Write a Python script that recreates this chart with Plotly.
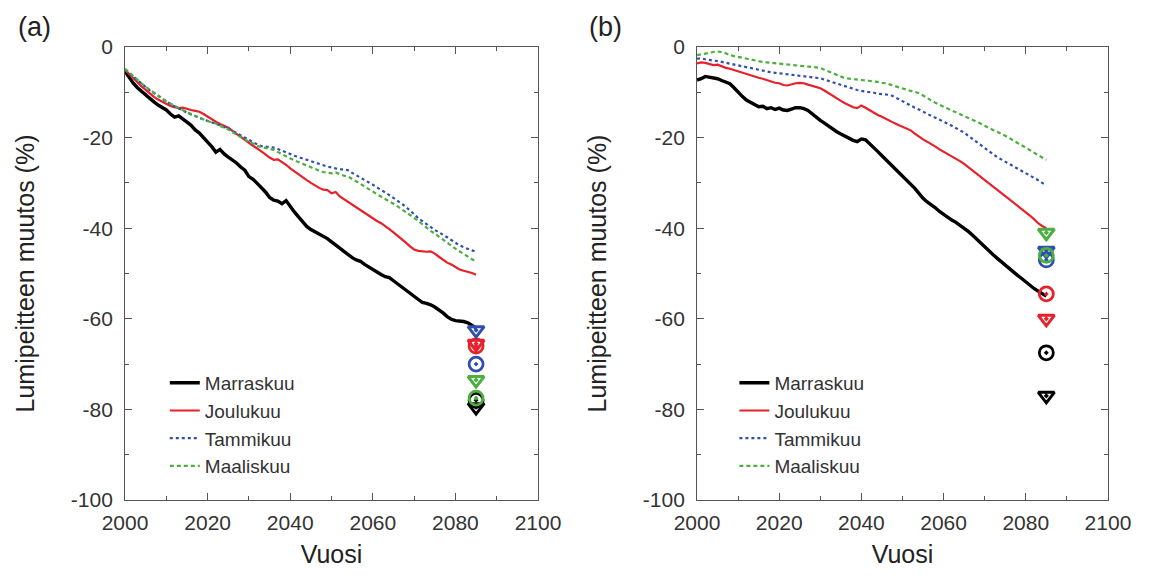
import plotly.graph_objects as go

years = list(range(2000, 2086))
months = ["Marraskuu", "Joulukuu", "Tammikuu", "Maaliskuu"]

# Panel (a)
a_marraskuu = [-5.4, -6.8, -8.0, -9.0, -9.8, -10.6, -11.5, -12.1, -12.8, -13.4, -13.9, -14.8, -15.5, -15.2, -16.0, -16.6, -17.3, -18.3, -19.0, -20.1,
               -21.0, -22.0, -23.2, -22.6, -23.6, -24.3, -24.9, -25.6, -26.5, -27.2, -28.6, -29.2, -30.1, -31.0, -32.0, -33.2, -33.8, -34.0, -34.6, -33.9,
               -35.3, -36.4, -37.5, -38.5, -39.6, -40.3, -40.8, -41.1, -41.6, -42.3, -43.0, -43.6, -44.4, -45.1, -45.9, -46.5, -47.0, -47.3, -48.0, -48.6,
               -49.1, -49.6, -50.2, -50.7, -50.9, -51.6, -52.3, -52.8, -53.5, -54.2, -55.0, -55.8, -56.4, -56.6, -56.9, -57.4, -58.0, -58.7, -59.5, -60.1,
               -60.4, -60.5, -60.6, -60.9, -61.4, -62.0]
a_joulukuu = [-5.0, -6.0, -7.0, -7.8, -8.7, -9.5, -10.3, -11.0, -11.6, -12.1, -12.6, -13.0, -13.3, -13.5, -13.4, -13.7, -13.9, -14.1, -14.3, -14.8,
              -15.4, -16.0, -16.5, -17.0, -17.4, -17.8, -18.5, -19.2, -19.9, -20.5, -21.2, -21.8, -22.4, -23.0, -23.7, -24.4, -24.9, -24.8, -25.4, -26.0,
              -26.8, -27.5, -28.1, -28.8, -29.4, -30.0, -30.6, -31.1, -31.5, -31.6, -32.3, -32.0, -33.0, -33.6, -34.2, -34.8, -35.4, -36.0, -36.6, -37.3,
              -37.9, -38.4, -38.9, -39.5, -40.2, -40.9, -41.6, -42.4, -43.2, -44.0, -44.7, -45.0, -45.1, -45.2, -45.1, -45.6, -46.3, -47.0, -47.6, -48.0,
              -48.6, -49.1, -49.4, -49.6, -49.9, -50.3]
a_tammikuu = [-5.0, -5.8, -6.6, -7.4, -8.2, -9.0, -9.6, -10.2, -10.8, -11.5, -12.0, -12.6, -13.1, -13.6, -14.0, -14.5, -14.9, -15.3, -15.7, -16.0,
              -16.3, -16.6, -16.9, -17.3, -17.7, -17.9, -18.5, -19.0, -19.6, -20.0, -20.5, -21.0, -21.5, -21.9, -22.0, -22.1, -22.2, -22.5, -22.9, -23.3,
              -23.6, -24.0, -24.3, -24.6, -25.0, -25.3, -25.6, -25.8, -26.1, -26.4, -26.6, -26.8, -27.0, -27.0, -27.2, -27.8, -28.3, -28.9, -29.4, -29.9,
              -30.4, -31.0, -31.5, -32.1, -32.7, -33.3, -33.9, -34.6, -35.3, -36.0, -36.9, -37.8, -38.5, -39.2, -39.8, -40.4, -40.9, -41.4, -42.0, -42.6,
              -43.2, -43.8, -44.2, -44.6, -44.9, -45.2]
a_maaliskuu = [-4.8, -5.6, -6.4, -7.3, -8.0, -8.8, -9.4, -10.1, -10.8, -11.4, -12.0, -12.5, -13.0, -13.5, -14.0, -14.4, -14.8, -15.2, -15.6, -16.0,
               -16.4, -16.6, -16.9, -17.4, -17.8, -18.2, -18.8, -19.4, -19.9, -20.4, -20.9, -21.4, -21.8, -22.1, -22.3, -22.5, -22.7, -23.2, -23.7, -24.1,
               -24.6, -25.0, -25.4, -25.8, -26.2, -26.5, -26.9, -27.3, -27.6, -27.8, -27.9, -27.7, -28.1, -28.4, -28.6, -29.1, -29.6, -30.2, -30.8, -31.3,
               -31.9, -32.5, -33.0, -33.5, -34.0, -34.6, -35.2, -35.8, -36.4, -37.0, -37.7, -38.4, -39.2, -39.9, -40.6, -41.2, -41.9, -42.6, -43.2, -43.8,
               -44.5, -45.1, -45.7, -46.3, -46.8, -47.4]

# Panel (b)
b_marraskuu = [-7.3, -7.0, -6.5, -6.7, -6.9, -7.0, -7.4, -7.8, -8.1, -9.0, -10.0, -10.9, -11.7, -12.2, -12.8, -13.2, -13.1, -13.6, -13.4, -13.8,
               -13.5, -13.9, -14.0, -13.7, -13.4, -13.4, -13.6, -14.0, -14.8, -15.6, -16.2, -16.8, -17.5, -18.1, -18.7, -19.2, -19.7, -20.1, -20.6, -20.9,
               -20.3, -20.5, -21.3, -22.2, -23.1, -24.0, -24.9, -25.7, -26.5, -27.4, -28.3, -29.3, -30.2, -31.2, -32.3, -33.4, -34.2, -34.8, -35.5, -36.3,
               -37.0, -37.6, -38.2, -38.7, -39.3, -39.9, -40.7, -41.5, -42.4, -43.2, -44.1, -44.9, -45.8, -46.6, -47.4, -48.2, -48.9, -49.7, -50.4, -51.1,
               -51.9, -52.6, -53.3, -53.9, -54.5, -55.0]
b_joulukuu = [-3.6, -3.4, -3.5, -3.8, -4.0, -3.9, -4.3, -4.6, -4.8, -5.1, -5.3, -5.6, -5.9, -6.2, -6.5, -6.8, -7.0, -7.3, -7.6, -7.9,
              -8.0, -8.4, -8.5, -8.2, -8.0, -7.9, -8.0, -8.3, -8.6, -8.8, -9.1, -9.6, -10.2, -10.8, -11.4, -11.9, -12.4, -12.8, -13.3, -13.5,
              -12.9, -13.4, -14.0, -14.5, -15.0, -15.4, -15.9, -16.3, -16.8, -17.2, -17.6, -18.0, -18.4, -19.1, -19.8, -20.4, -20.9, -21.4, -22.0, -22.6,
              -23.1, -23.6, -24.1, -24.6, -25.2, -25.8, -26.5, -27.2, -27.9, -28.6, -29.4, -30.2, -30.9, -31.6, -32.2, -32.8, -33.5, -34.2, -34.9, -35.6,
              -36.4, -37.2, -38.0, -38.9, -39.5, -40.0]
b_tammikuu = [-2.6, -2.5, -2.7, -2.9, -3.0, -3.1, -3.3, -3.5, -3.6, -3.8, -4.0, -4.2, -4.4, -4.6, -4.8, -5.0, -5.2, -5.4, -5.6, -5.7,
              -5.8, -6.0, -6.1, -6.2, -6.3, -6.4, -6.5, -6.6, -6.7, -6.8, -6.9, -7.2, -7.5, -7.8, -8.1, -8.4, -8.7, -9.0, -9.3, -9.5,
              -9.7, -9.8, -10.0, -10.1, -10.3, -10.4, -10.5, -10.6, -11.0, -11.5, -12.0, -12.5, -12.9, -13.4, -13.8, -14.3, -14.8, -15.2, -15.6, -16.1,
              -16.5, -16.9, -17.4, -17.8, -18.3, -18.9, -19.6, -20.3, -21.0, -21.7, -22.4, -23.1, -23.7, -24.3, -24.8, -25.3, -25.8, -26.3, -26.8, -27.3,
              -27.8, -28.3, -28.9, -29.4, -30.0, -30.5]
b_maaliskuu = [-1.8, -1.6, -1.5, -1.3, -1.1, -1.0, -1.1, -1.4, -1.8, -2.0, -2.2, -2.4, -2.6, -2.8, -3.0, -3.2, -3.3, -3.4, -3.5, -3.6,
               -3.7, -3.8, -3.9, -4.0, -4.0, -4.1, -4.2, -4.3, -4.4, -4.5, -4.6, -5.0, -5.4, -5.8, -6.2, -6.6, -6.9, -7.0, -7.1, -7.2,
               -7.2, -7.3, -7.4, -7.6, -7.7, -7.9, -8.0, -8.3, -8.6, -8.9, -9.2, -9.4, -9.7, -9.9, -10.2, -10.7, -11.3, -11.8, -12.3, -12.8,
               -13.2, -13.6, -14.0, -14.4, -14.8, -15.2, -15.6, -16.0, -16.5, -16.9, -17.4, -17.9, -18.3, -18.7, -19.1, -19.6, -20.1, -20.7, -21.2, -21.7,
               -22.2, -22.8, -23.3, -23.9, -24.4, -24.9]

# End-of-period markers (year 2085): triangle and circle values per month
marker_year = 2085
a_triangle = [-79.5, -65.5, -62.5, -73.5]
a_circle = [-78.0, -66.0, -70.0, -77.5]
b_triangle = [-77.0, -60.0, -45.0, -41.0]
b_circle = [-67.5, -54.5, -47.0, -46.0]

x_ticks = [2000, 2020, 2040, 2060, 2080, 2100]
y_ticks = [0, -20, -40, -60, -80, -100]
y_ticktext = ["0", "-20", "-40", "-60", "-80", "-100"]

colors = ["#000000", "#e8202a", "#2f4fb0", "#4caf3f"]
widths = [3.4, 2.2, 2.2, 2.2]
dashes = ["solid", "solid", "dot", "4px,3px"]

FONT = "Arial, Liberation Sans, sans-serif"

fig = go.Figure()

panels = [
    ("x", "y", "legend", [a_marraskuu, a_joulukuu, a_tammikuu, a_maaliskuu], a_triangle, a_circle),
    ("x2", "y2", "legend2", [b_marraskuu, b_joulukuu, b_tammikuu, b_maaliskuu], b_triangle, b_circle),
]

for xa, ya, leg, series, tri, cir in panels:
    for i, (name, vals) in enumerate(zip(months, series)):
        fig.add_trace(go.Scatter(
            x=years, y=vals, mode="lines", name=name,
            line=dict(color=colors[i], width=widths[i], dash=dashes[i]),
            xaxis=xa, yaxis=ya, legend=leg, showlegend=True,
        ))
    for i in range(4):
        fig.add_trace(go.Scatter(
            x=[marker_year], y=[cir[i]], mode="markers", showlegend=False,
            marker=dict(symbol="circle-open-dot", size=14, color=colors[i],
                        line=dict(width=2.8, color=colors[i])),
            xaxis=xa, yaxis=ya,
        ))
        fig.add_trace(go.Scatter(
            x=[marker_year], y=[tri[i]], mode="markers", showlegend=False,
            marker=dict(symbol="triangle-down-open-dot", size=14, color=colors[i],
                        line=dict(width=3, color=colors[i])),
            xaxis=xa, yaxis=ya,
        ))

axis_common = dict(
    showgrid=False, zeroline=False, showline=True, linecolor="#555555", linewidth=1,
    mirror="ticks", ticks="inside", ticklen=7, tickcolor="#555555", automargin=False,
    tickfont=dict(family=FONT, size=21, color="#333333"),
)

xaxis_cfg = dict(axis_common, range=[2000, 2100], tickvals=x_ticks, ticklabelstandoff=4,
                 minor=dict(ticks="inside", dtick=10, ticklen=4, tickcolor="#555555"),
                 title=dict(text="Vuosi", font=dict(family=FONT, size=25, color="#222222"), standoff=12))
yaxis_cfg = dict(axis_common, range=[-100, 0], tickvals=y_ticks, ticktext=y_ticktext, ticklabelstandoff=7,
                 minor=dict(ticks="inside", dtick=10, ticklen=4, tickcolor="#555555"),
                 title=dict(text="Lumipeitteen muutos (%)", font=dict(family=FONT, size=25, color="#222222"), standoff=29))

legend_common = dict(
    bgcolor="rgba(0,0,0,0)", borderwidth=0,
    font=dict(family=FONT, size=19, color="#333333"),
    tracegroupgap=0, itemwidth=30, xanchor="left", yanchor="top",
)

fig.update_layout(
    width=1153, height=576,
    margin=dict(l=0, r=0, t=0, b=0),
    paper_bgcolor="white", plot_bgcolor="white",
    xaxis=dict(xaxis_cfg, domain=[0.1015, 0.4597], anchor="y"),
    yaxis=dict(yaxis_cfg, domain=[0.1458, 0.9323], anchor="x"),
    xaxis2=dict(xaxis_cfg, domain=[0.5976, 0.9540], anchor="y2"),
    yaxis2=dict(yaxis_cfg, domain=[0.1458, 0.9323], anchor="x2"),
    legend=dict(legend_common, x=0.136, y=0.382),
    legend2=dict(legend_common, x=0.630, y=0.382),
    annotations=[
        dict(text="(a)", x=0.0226, y=0.967, xref="paper", yref="paper", showarrow=False,
             xanchor="center", yanchor="middle", font=dict(family=FONT, size=27, color="#222222")),
        dict(text="(b)", x=0.5178, y=0.967, xref="paper", yref="paper", showarrow=False,
             xanchor="center", yanchor="middle", font=dict(family=FONT, size=27, color="#222222")),
    ],
)

fig.write_html("out.html")
